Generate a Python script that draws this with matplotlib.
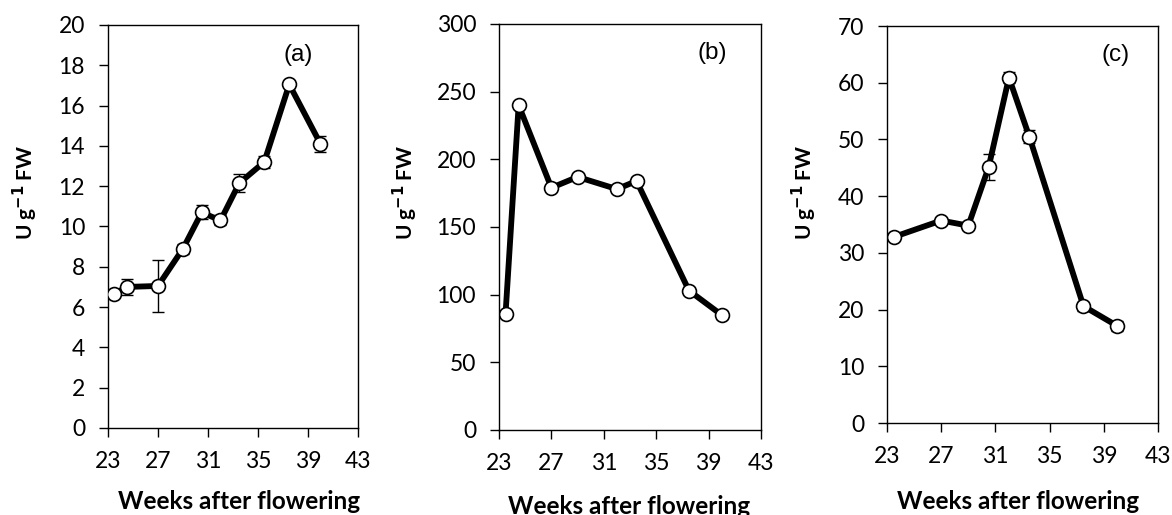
import matplotlib
matplotlib.use('Agg')
import matplotlib.pyplot as plt
import numpy as np

# weeks after flowering for each panel
weeksA = [23.5, 24.5, 27, 29, 30.5, 32, 33.5, 35.5, 37.5, 40]
valuesA = [6.65, 7.0, 7.05, 8.9, 10.7, 10.3, 12.15, 13.2, 17.05, 14.1]
errorsA = [0.1, 0.4, 1.3, 0.25, 0.35, 0.25, 0.45, 0.3, 0.1, 0.4]

weeksB = [23.5, 24.5, 27, 29, 32, 33.5, 37.5, 40]
valuesB = [86, 240, 179, 187, 178, 184, 103, 85]
errorsB = [1, 2, 2, 2, 2, 3, 2, 3]

weeksC = [23.5, 27, 29, 30.5, 32, 33.5, 37.5, 40]
valuesC = [32.8, 35.7, 34.8, 45.1, 60.9, 50.5, 20.6, 17.1]
errorsC = [0.4, 0.4, 0.4, 2.3, 1.0, 1.2, 0.8, 0.8]

xTicks = [23, 27, 31, 35, 39, 43]
panelNames = ['(a)', '(b)', '(c)']

plt.rcParams['font.family'] = ['Lato', 'DejaVu Sans']

fig = plt.figure(figsize=(11.72, 5.15), dpi=100)
W, H = 1172, 515


def makeAxes(left, right, top, bottom):
    return fig.add_axes([left / W, 1 - bottom / H, (right - left) / W, (bottom - top) / H])


# axes box, y max, y step, panel label pos, x label pos, y label x (all pixels)
panels = [
    (makeAxes(108, 358, 25, 428), weeksA, valuesA, errorsA, 20, 2, (298, 55), (239, 490), 25),
    (makeAxes(499, 761, 24, 430), weeksB, valuesB, errorsB, 300, 50, (712, 53), (629, 495), 405),
    (makeAxes(887, 1158, 26, 423), weeksC, valuesC, errorsC, 70, 10, (1116, 55), (1018, 490), 804),
]

for i, (ax, weeks, values, errors, yMax, yStep, labelPos, xlabPos, ylabX) in enumerate(panels):
    ax.errorbar(weeks, values, yerr=errors, fmt='none', ecolor='black',
                elinewidth=1, capsize=4, capthick=1, zorder=2)
    ax.plot(weeks, values, color='black', linewidth=4.2, marker='o',
            markersize=10, markerfacecolor='white', markeredgecolor='black',
            markeredgewidth=1.2, zorder=3)
    ax.set_xlim(23, 43)
    ax.set_ylim(0, yMax)
    ax.set_xticks(xTicks)
    ax.set_yticks(np.arange(0, yMax + yStep / 2, yStep))
    ax.tick_params(direction='out', length=6.5, width=1, labelsize=16.5,
                   colors='black', pad=10)
    for spine in ax.spines.values():
        spine.set_linewidth(1)
    fig.text(xlabPos[0] / W, 1 - xlabPos[1] / H, 'Weeks after flowering',
             fontsize=17.5, fontweight='bold', ha='center', va='top')
    fig.text(ylabX / W, 1 - 192 / H, 'U g$^{\\mathbf{-1}}$ FW', fontsize=15,
             fontweight='bold', rotation=90, ha='center', va='center')
    fig.text(labelPos[0] / W, 1 - labelPos[1] / H, panelNames[i],
             fontsize=17.5, family='Liberation Sans', ha='center', va='center')

fig.savefig('out.png', dpi=100)
